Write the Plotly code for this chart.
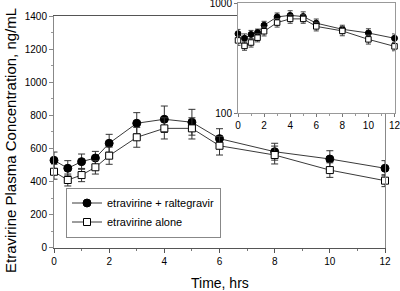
import plotly.graph_objects as go

# ---- data ----
time_hrs = [0, 0.5, 1, 1.5, 2, 3, 4, 5, 6, 8, 10, 12]
combo_conc = [528, 480, 520, 542, 631, 752, 776, 758, 659, 580, 536, 480]
combo_err = [50, 46, 46, 40, 54, 64, 80, 78, 60, 51, 50, 46]
alone_conc = [459, 409, 439, 486, 556, 667, 721, 721, 616, 560, 469, 405]
alone_err = [45, 36, 40, 41, 52, 60, 64, 64, 56, 54, 44, 36]
series_names = ["etravirine + raltegravir", "etravirine alone"]
main_yticks = [0, 200, 400, 600, 800, 1000, 1200, 1400]
xticks = [0, 2, 4, 6, 8, 10, 12]
inset_yticks = [100, 1000]

W, H = 400, 291
FONT = "Liberation Sans, Arial, sans-serif"
LINE = "#3a3a3a"

fig = go.Figure()

# main plot
fig.add_trace(go.Scatter(
    x=time_hrs, y=combo_conc, name=series_names[0], mode="lines+markers",
    line=dict(color=LINE, width=1),
    marker=dict(symbol="circle", size=8, color="black", line=dict(color="black", width=1)),
    error_y=dict(type="data", array=combo_err, visible=True, color="#333", thickness=1, width=3.5),
    cliponaxis=False, xaxis="x", yaxis="y"))
fig.add_trace(go.Scatter(
    x=time_hrs, y=alone_conc, name=series_names[1], mode="lines+markers",
    line=dict(color=LINE, width=1),
    marker=dict(symbol="square", size=7, color="white", line=dict(color="black", width=1)),
    error_y=dict(type="data", array=alone_err, visible=True, color="#333", thickness=1, width=3.5),
    cliponaxis=False, xaxis="x", yaxis="y"))

# inset (log scale)
fig.add_trace(go.Scatter(
    x=time_hrs, y=combo_conc, mode="lines+markers", showlegend=False,
    line=dict(color=LINE, width=1),
    marker=dict(symbol="circle", size=6, color="black", line=dict(color="black", width=1)),
    error_y=dict(type="data", array=combo_err, visible=True, color="#444", thickness=1, width=2.5),
    cliponaxis=False, xaxis="x2", yaxis="y2"))
fig.add_trace(go.Scatter(
    x=time_hrs, y=alone_conc, mode="lines+markers", showlegend=False,
    line=dict(color=LINE, width=1),
    marker=dict(symbol="square", size=5.5, color="white", line=dict(color="black", width=1)),
    error_y=dict(type="data", array=alone_err, visible=True, color="#444", thickness=1, width=2.5),
    cliponaxis=False, xaxis="x2", yaxis="y2"))

tickfont = dict(family=FONT, size=10, color="black")

fig.update_layout(
    template="none",
    width=W, height=H,
    margin=dict(l=0, r=0, t=0, b=0, pad=0, autoexpand=False),
    paper_bgcolor="white", plot_bgcolor="white",
    font=dict(family=FONT, color="black"),
    xaxis=dict(domain=[54/W, 385/W], range=[0, 12], tickvals=xticks, automargin=False,
               ticks="outside", ticklen=4, tickcolor="#555", tickfont=tickfont,
               showline=True, linecolor="#555", linewidth=1, mirror=True,
               showgrid=False, zeroline=False,
               minor=dict(dtick=1, ticks="outside", ticklen=2, tickcolor="#777", showgrid=False),
               anchor="y"),
    yaxis=dict(domain=[1-247.7/H, 1-16/H], range=[0, 1400], tickvals=main_yticks, automargin=False,
               ticks="outside", ticklen=4, tickcolor="#888", tickfont=tickfont,
               showline=True, linecolor="#888", linewidth=1, mirror=True,
               showgrid=False, zeroline=False,
               minor=dict(dtick=100, ticks="outside", ticklen=2, tickcolor="#999", showgrid=False),
               anchor="x"),
    xaxis2=dict(domain=[238/W, 394.5/W], range=[0, 12], tickvals=xticks, automargin=False,
                ticks="outside", ticklen=3, tickcolor="#777", tickfont=tickfont,
                ticklabeloverflow="allow",
                showline=True, linecolor="#999", linewidth=1, mirror=True,
                showgrid=False, zeroline=False,
                minor=dict(dtick=1, ticks="outside", ticklen=2, tickcolor="#999", showgrid=False),
                anchor="y2"),
    yaxis2=dict(domain=[1-113/H, 1-3.3/H], type="log", range=[2, 3], tickvals=inset_yticks,
                ticktext=["100", "1000"], automargin=False,
                ticklabeloverflow="allow",
                ticks="outside", ticklen=3, tickcolor="#777", tickfont=tickfont,
                showline=True, linecolor="#999", linewidth=1, mirror=True,
                showgrid=False, zeroline=False,
                anchor="x2"),
    legend=dict(x=66/W, y=1-212.5/H, xanchor="left", yanchor="middle",
                bgcolor="white", bordercolor="#888", borderwidth=1,
                font=dict(family=FONT, size=11, color="black"),
                itemwidth=30, tracegroupgap=0),
    showlegend=True,
    annotations=[
        dict(text="Time, hrs", x=220/W, y=1-282.5/H, xref="paper", yref="paper",
             showarrow=False, font=dict(family=FONT, size=14, color="black"),
             xanchor="center", yanchor="middle"),
        dict(text="Etravirine Plasma Concentration, ng/mL", x=10/W, y=1-141/H,
             xref="paper", yref="paper", textangle=-90, showarrow=False,
             font=dict(family=FONT, size=15, color="black"),
             xanchor="center", yanchor="middle"),
    ],
)

fig.write_html("out.html", config={"displayModeBar": False},
               post_script="document.body.style.margin='0';document.body.style.padding='0';")
